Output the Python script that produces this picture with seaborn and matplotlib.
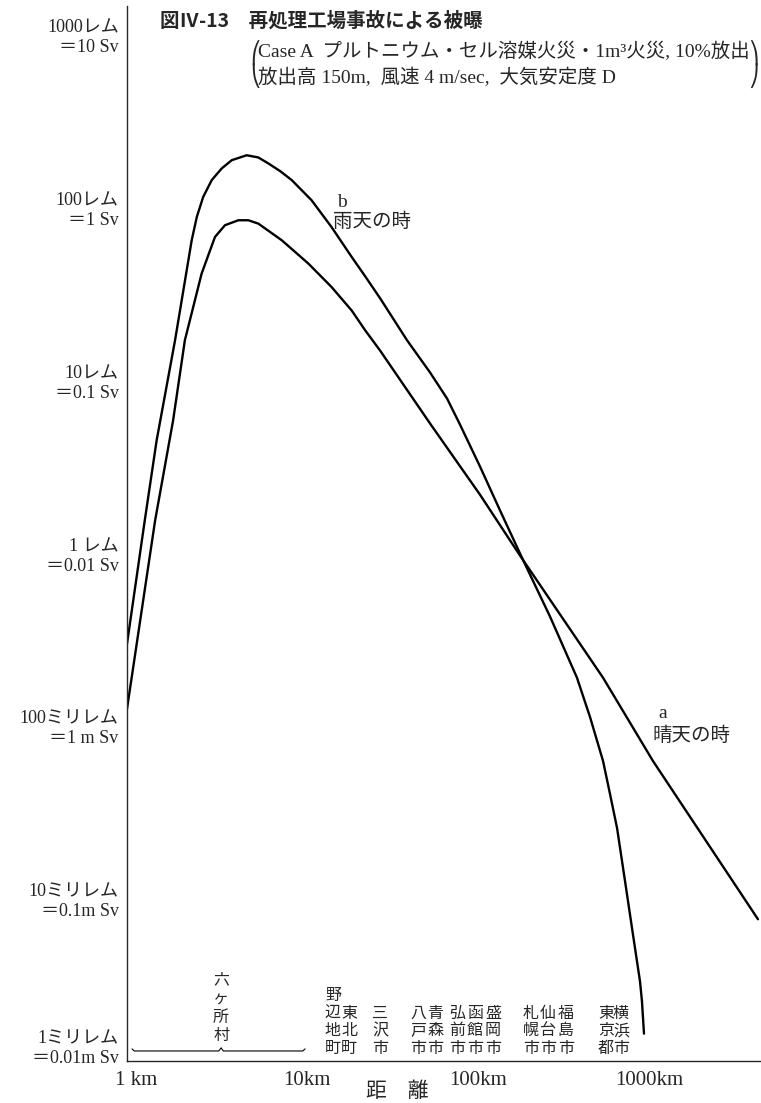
import matplotlib
matplotlib.use('Agg')
import matplotlib.pyplot as plt
import matplotlib.transforms as mtransforms
import seaborn as sns

# 曲線a(晴天の時) 距離[km] と 被曝線量[レム]
dist_a = [1.00, 1.46, 1.86, 2.18, 2.73, 3.06, 3.27, 3.74, 4.48, 5.12, 5.86, 8.03,
          11.5, 15.7, 20.6, 24.7, 30.2, 59.2, 116, 199, 608, 1191, 4898]
dose_a = [0.109, 1.34, 5.08, 14.8, 35.9, 49.0, 58.6, 68.5, 73.2, 73.2, 70.0, 56.1,
          41.1, 30.1, 22.0, 16.9, 12.9, 4.88, 1.89, 0.839, 0.165, 0.0544, 0.00661]

# 曲線b(雨天の時)
dist_b = [1.00, 1.27, 1.49, 1.91, 2.39, 2.56, 2.79, 3.13, 3.58, 4.10, 5.01, 5.86,
          6.71, 7.85, 9.19, 12.0, 15.7, 20.6, 24.7, 30.2, 43.4, 59.2, 74.4, 88.6,
          116, 152, 204, 298, 428, 510, 608, 668, 734, 785, 839, 898, 960, 1000,
          1027, 1055]
dose_b = [0.259, 1.34, 3.89, 14.8, 56.1, 76.5, 99.9, 125, 146, 163, 174, 169,
          156, 141, 125, 95.6, 66.9, 44.9, 34.7, 25.9, 14.8, 9.63, 6.81, 4.81,
          2.75, 1.53, 0.817, 0.372, 0.165, 0.0979, 0.0544, 0.0350, 0.0223, 0.01434,
          0.00923, 0.00587, 0.00378, 0.00289, 0.00221, 0.00144]

ytick_vals = [1000, 100, 10, 1, 0.1, 0.01, 0.001]
ytick_labels = ['1000レム\n＝10 Sv', '100レム\n＝1 Sv', '10レム\n＝0.1 Sv',
                '1 レム\n＝0.01 Sv', '100ミリレム\n＝1 m Sv', '10ミリレム\n＝0.1m Sv',
                '1ミリレム\n＝0.01m Sv']
xtick_vals = [1, 10, 100, 1000]
xtick_labels = ['1 km', '10km', '100km', '1000km']

# 地名と距離[km]
towns = ['六ヶ所村', '野辺地町', '東北町', '三沢市', '八戸市', '青森市', '弘前市',
         '函館市', '盛岡市', '札幌市', '仙台市', '福島市', '東京都', '横浜市']
town_dist = [3.55, 16.0, 19.9, 30.2, 50.3, 63.3, 85.1, 108, 138, 230, 290, 369, 632, 774]
rokkasho_span = [1.07, 11.0]

sns.set_style('white')
plt.rcParams['font.family'] = ['Liberation Serif', 'Noto Sans CJK JP']
plt.rcParams['axes.linewidth'] = 1.0

fig = plt.figure(figsize=(7.61, 11.03), dpi=100)
ax = fig.add_axes([127 / 761, 42 / 1103, 634 / 761, 1055 / 1103])
ax.set_xscale('log')
ax.set_yscale('log')

sns.lineplot(x=dist_a, y=dose_a, ax=ax, color='black', lw=1.7, errorbar=None)
sns.lineplot(x=dist_b, y=dose_b, ax=ax, color='black', lw=1.7, errorbar=None)

ax.set_xlim(1, 5100)
ax.set_ylim(0.001, 1271)
sns.despine(ax=ax)

ax.set_xticks(xtick_vals, xtick_labels)
ax.set_yticks(ytick_vals, ytick_labels)
ax.xaxis.set_minor_locator(matplotlib.ticker.NullLocator())
ax.yaxis.set_minor_locator(matplotlib.ticker.NullLocator())
ax.tick_params(axis='y', direction='out', length=4, width=1, pad=2, labelsize=13)
ax.tick_params(axis='x', direction='out', length=4, width=1, pad=3, labelsize=15)

# 2行ラベルの1行目を目盛りに合わせる
down = mtransforms.ScaledTranslation(0, -0.105, fig.dpi_scale_trans)
up = mtransforms.ScaledTranslation(0, 0.16, fig.dpi_scale_trans)
for v, lab in zip(ytick_vals, ax.get_yticklabels()):
    lab.set_transform(lab.get_transform() + (up if v == 0.001 else down))
right = mtransforms.ScaledTranslation(0.09, 0, fig.dpi_scale_trans)
for lab in ax.get_xticklabels():
    lab.set_transform(lab.get_transform() + right)

ax.set_xlabel('距　離', fontsize=15)
ax.xaxis.set_label_coords(0.426, -0.03)
ax.xaxis.label.set_va('center')

# タイトル
fig.text(160 / 761, 1 - 21 / 1103, '図Ⅳ-13　再処理工場事故による被曝', fontsize=14,
         fontweight='bold', family='Noto Sans CJK JP', va='center')
fig.text(258 / 761, 1 - 51 / 1103, 'Case A  プルトニウム・セル溶媒火災・1m³火災, 10%放出',
         fontsize=14, va='center')
fig.text(258 / 761, 1 - 77 / 1103, '放出高 150m,  風速 4 m/sec,  大気安定度 D',
         fontsize=14, va='center')
fig.text(250 / 761, 1 - 64 / 1103, '⎛\n⎝', fontsize=15, family='DejaVu Sans',
         va='center', linespacing=0.85)
fig.text(759 / 761, 1 - 64 / 1103, '⎞\n⎠', fontsize=15, family='DejaVu Sans',
         va='center', ha='right', linespacing=0.85)

# 曲線の説明
ax.text(18.1, 93, 'b', fontsize=14, ha='center', va='center')
ax.text(16.0, 71.3, '雨天の時', fontsize=14, ha='left', va='center')
ax.text(1363, 0.102, 'a', fontsize=14, ha='center', va='center')
ax.text(1191, 0.076, '晴天の時', fontsize=14, ha='left', va='center')

# 地名
for name, d in zip(towns, town_dist):
    rok = name == '六ヶ所村'
    ax.annotate('\n'.join(name), xy=(d, 0), xycoords=('data', 'axes fraction'),
                xytext=(0, 12 if rok else 3), textcoords='offset points',
                ha='center', va='bottom', fontsize=11.5,
                linespacing=1.12 if rok else 1.04, family='Noto Sans CJK JP')

# 六ヶ所村の範囲を示す括弧
bx = [rokkasho_span[0], rokkasho_span[0] * 1.03, town_dist[0] * 0.97, town_dist[0],
      town_dist[0] * 1.03, rokkasho_span[1] * 0.97, rokkasho_span[1]]
by = [0.0115, 0.0095, 0.0095, 0.0125, 0.0095, 0.0095, 0.0115]
trans = mtransforms.blended_transform_factory(ax.transData, ax.transAxes)
ax.plot(bx, by, color='black', lw=0.8, transform=trans, clip_on=False)

fig.savefig('out.png', dpi=100)
